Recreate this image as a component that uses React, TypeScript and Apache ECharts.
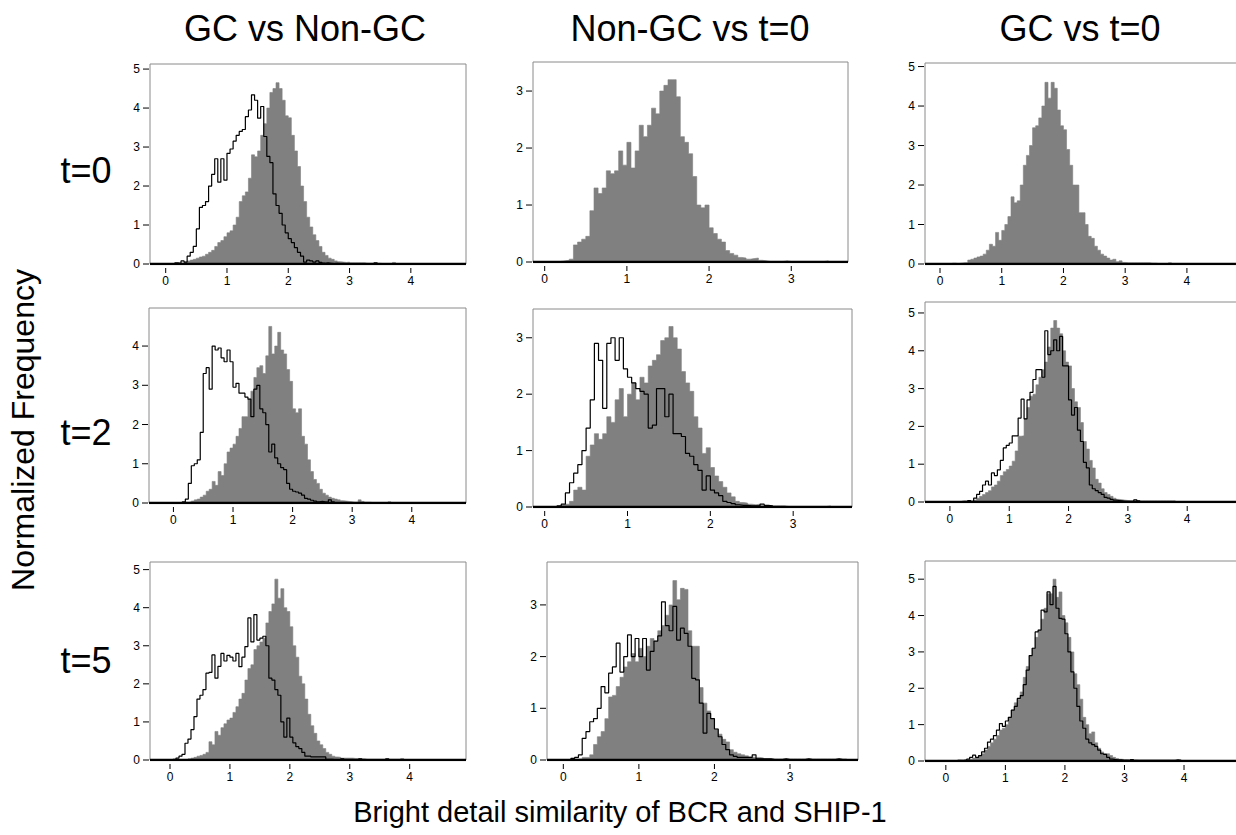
import React, { useEffect, useRef } from "react";
import * as echarts from "echarts";

// ---------- data ----------
const BIN = 0.05; // histogram bin width, values start at x = 0

const colTitles = ["GC vs Non-GC", "Non-GC vs t=0", "GC vs t=0"];
const rowTitles = ["t=0", "t=2", "t=5"];
const xTitle = "Bright detail similarity of BCR and SHIP-1";
const yTitle = "Normalized Frequency";

const xTicksWide = [0, 1, 2, 3, 4];
const xTicksNarrow = [0, 1, 2, 3];
const yTicks5 = [0, 1, 2, 3, 4, 5];
const yTicks4 = [0, 1, 2, 3, 4];
const yTicks3 = [0, 1, 2, 3];

// Row t=0
const t0GcNonFill = [
  0, 0, 0, 0, 0, 0.02, 0.05, 0.08, 0.1, 0.12,
  0.15, 0.18, 0.2, 0.25, 0.3, 0.35, 0.45, 0.55, 0.6, 0.7,
  0.8, 0.85, 1.0, 1.2, 1.6, 1.75, 1.85, 2.2, 2.8, 2.75,
  2.9, 3.3, 3.6, 4.0, 4.4, 4.5, 4.65, 4.5, 4.2, 3.8,
  3.75, 3.3, 2.9, 2.5, 2.0, 1.6, 1.2, 0.95, 0.75, 0.6,
  0.45, 0.3, 0.22, 0.15, 0.12, 0.08, 0.06, 0.05, 0.04, 0.05,
  0.03, 0.03, 0.03, 0.03, 0.03, 0.02, 0.02, 0.02, 0.02, 0.02,
  0.01, 0.01, 0.01, 0.01, 0.04, 0,
];
const t0GcNonLine = [
  0, 0, 0, 0.03, 0.02, 0.08, 0.05, 0.2, 0.3, 0.45,
  0.9, 1.45, 1.5, 1.6, 2.0, 2.3, 2.7, 2.1, 2.7, 2.15,
  2.84, 2.95, 3.15, 3.3, 3.4, 3.45, 3.78, 3.95, 4.34, 4.2,
  3.74, 4.04, 3.27, 2.76, 2.6, 1.8, 1.5, 1.3, 1.0, 0.8,
  0.65, 0.55, 0.42, 0.3, 0.2, 0.05, 0.1, 0.08, 0.05, 0.08,
  0.04, 0.02, 0.03, 0.02, 0.01, 0.02, 0.01, 0.01, 0, 0,
  0, 0, 0, 0, 0, 0, 0, 0, 0.03, 0,
];
const t0NonT0Fill = [
  0, 0, 0, 0.01, 0.02, 0.03, 0.05, 0.3, 0.35, 0.4,
  0.45, 0.9, 1.3, 1.2, 1.3, 1.6, 1.55, 1.6, 1.95, 1.7,
  2.1, 1.65, 1.95, 2.4, 2.2, 2.4, 2.7, 2.6, 3.0, 3.1,
  3.2, 3.2, 2.9, 2.2, 2.1, 1.9, 1.5, 1.0, 0.95, 1.0,
  0.6, 0.5, 0.4, 0.35, 0.2, 0.15, 0.12, 0.08, 0.07, 0.05,
  0.06, 0.07, 0.03, 0.02, 0.01, 0.01, 0.01, 0.01, 0.02, 0.01,
  0.01, 0.01, 0.01, 0.01, 0.01, 0.01, 0.01, 0.01, 0.02, 0,
];
const t0GcT0Fill = [
  0, 0, 0, 0, 0.02, 0.01, 0.02, 0.03, 0.03, 0.1,
  0.12, 0.15, 0.18, 0.2, 0.25, 0.35, 0.5, 0.45, 0.8, 0.6,
  0.85, 1.0, 1.2, 1.7, 1.55, 1.6, 2.0, 2.5, 2.75, 3.0,
  3.45, 3.5, 3.7, 4.0, 4.6, 4.2, 4.6, 4.45, 3.9, 3.5,
  3.4, 2.9, 2.5, 2.0, 2.0, 1.3, 1.3, 1.0, 0.7, 0.65,
  0.45, 0.35, 0.25, 0.2, 0.15, 0.1, 0.12, 0.06, 0.08, 0.04,
  0.03, 0.03, 0.03, 0.03, 0.03, 0.03, 0.03, 0.03, 0.02, 0.02,
  0.01, 0.01, 0.01, 0.01, 0.03, 0,
];

// Row t=2
const t2GcNonFill = [
  0, 0, 0, 0, 0.02, 0.03, 0.05, 0.08, 0.1, 0.15,
  0.2, 0.3, 0.35, 0.55, 0.45, 0.8, 0.7, 1.0, 1.3, 1.4,
  1.5, 1.7, 1.9, 2.2, 2.2, 2.65, 2.85, 3.2, 3.45, 3.5,
  3.3, 3.75, 4.5, 3.8, 4.0, 4.35, 3.9, 3.8, 3.4, 3.1,
  2.4, 2.3, 2.4, 1.7, 1.5, 1.1, 0.8, 0.6, 0.5, 0.35,
  0.25, 0.2, 0.15, 0.12, 0.1, 0.08, 0.06, 0.05, 0.04, 0.03,
  0.02, 0.02, 0.08, 0.04, 0.02, 0.02, 0.01, 0.01, 0.01, 0.01,
  0.01, 0.01, 0.03, 0,
];
const t2GcNonLine = [
  0, 0, 0, 0.03, 0.1, 0.5, 0.95, 1.0, 1.1, 1.8,
  3.3, 3.45, 2.9, 4.0, 3.9, 3.95, 3.7, 3.6, 3.9, 3.6,
  2.95, 3.05, 2.8, 2.8, 2.7, 2.65, 2.2, 2.9, 3.0, 2.4,
  2.3, 2.0, 1.3, 1.5, 1.15, 1.0, 0.9, 0.85, 0.5, 0.35,
  0.3, 0.28, 0.25, 0.2, 0.12, 0.1, 0.07, 0.05, 0.03, 0.04,
  0.03, 0.02, 0.08, 0.03, 0,
];
const t2NonT0Fill = [
  0, 0, 0, 0, 0.03, 0.05, 0.1, 0.3, 0.35, 0.3,
  0.9, 1.1, 1.3, 1.2, 1.3, 1.6, 1.5, 1.9, 2.1, 1.6,
  2.0, 2.2, 1.9, 2.3, 2.2, 2.5, 2.6, 2.7, 2.95, 3.0,
  3.2, 3.0, 2.8, 2.4, 2.2, 2.05, 1.6, 1.4, 0.95, 1.05,
  0.7, 0.55, 0.45, 0.35, 0.25, 0.18, 0.1, 0.08, 0.07, 0.05,
  0.04, 0.05, 0.02, 0.02, 0.02, 0.02, 0.02, 0.02, 0.01, 0.01,
  0.01, 0.01, 0.01, 0.01, 0.01, 0.01, 0.01, 0.01, 0.02, 0,
];
const t2NonT0Line = [
  0, 0, 0, 0.02, 0.05, 0.25, 0.43, 0.6, 0.75, 1.0,
  1.4, 1.9, 2.9, 2.6, 1.75, 2.9, 3.0, 2.6, 3.0, 2.45,
  2.3, 2.2, 2.1, 2.05, 2.0, 1.4, 1.45, 2.1, 2.1, 1.6,
  2.0, 1.3, 1.3, 1.25, 0.95, 0.9, 0.75, 0.65, 0.3, 0.55,
  0.3, 0.25, 0.2, 0.1, 0.08, 0.06, 0.04, 0.03, 0.03, 0.02,
  0.02, 0.02, 0.05, 0.03, 0.02, 0,
];
const t2GcT0Fill = [
  0, 0, 0, 0, 0.02, 0.01, 0.02, 0.02, 0.05, 0.1,
  0.15, 0.2, 0.25, 0.3, 0.4, 0.45, 0.55, 0.7, 0.8, 0.86,
  0.95, 1.08, 1.35, 1.74, 1.75, 2.2, 2.5, 2.8, 2.85, 3.1,
  3.3, 3.5, 3.7, 4.1, 4.6, 4.8, 4.6, 4.45, 4.0, 3.7,
  3.6, 3.0, 2.65, 2.5, 2.1, 1.6, 1.4, 1.1, 0.9, 0.6,
  0.5, 0.35, 0.25, 0.2, 0.15, 0.1, 0.07, 0.06, 0.05, 0.04,
  0.03, 0.03, 0.05, 0.03, 0.03, 0.03, 0.03, 0.03, 0.03, 0.03,
  0.03, 0.03, 0.03, 0.03, 0.03, 0.03, 0,
];
const t2GcT0Line = [
  0, 0, 0, 0.01, 0.02, 0.02, 0.04, 0.02, 0.1, 0.2,
  0.28, 0.45, 0.55, 0.45, 0.77, 0.7, 0.85, 1.1, 1.43, 1.5,
  1.56, 1.75, 1.75, 2.22, 2.72, 2.2, 2.7, 2.9, 3.24, 3.5,
  3.5, 3.3, 4.53, 3.9, 4.0, 4.29, 4.0, 4.38, 3.6, 3.6,
  2.7, 2.3, 2.5, 1.9, 1.6, 1.05, 0.9, 0.45, 0.35, 0.3,
  0.25, 0.2, 0.12, 0.1, 0.07, 0.05, 0.04, 0.03, 0.02, 0.02,
  0.02, 0.02, 0.06, 0.03, 0,
];

// Row t=5
const t5GcNonFill = [
  0, 0, 0, 0, 0, 0.01, 0.03, 0.05, 0.07, 0.1,
  0.12, 0.15, 0.2, 0.48, 0.4, 0.75, 0.65, 0.85, 0.95, 1.05,
  1.1, 1.25, 1.4, 1.6, 1.75, 2.1, 2.4, 2.5, 2.9, 3.0,
  3.1, 3.2, 3.6, 3.9, 4.1, 4.75, 4.25, 4.5, 4.0, 3.9,
  3.5, 3.0, 2.7, 2.2, 2.0, 1.6, 1.2, 0.9, 0.7, 0.5,
  0.4, 0.3, 0.2, 0.15, 0.1, 0.08, 0.07, 0.05, 0.05, 0.05,
  0.05, 0.04, 0.04, 0.03, 0.03, 0.02, 0.02, 0.02, 0.02, 0.02,
  0.02, 0.02, 0.02, 0.02, 0.02, 0.02, 0.02, 0.04, 0,
];
const t5GcNonLine = [
  0, 0.02, 0.05, 0.1, 0.15, 0.44, 0.55, 0.8, 1.14, 1.6,
  1.7, 1.85, 2.28, 2.3, 2.76, 2.15, 2.46, 2.8, 2.6, 2.75,
  2.7, 2.6, 2.8, 2.45, 2.7, 2.98, 3.73, 3.1, 3.82, 3.15,
  3.2, 3.25, 3.0, 2.15, 2.1, 1.85, 1.7, 1.0, 0.6, 1.1,
  0.6, 0.45, 0.35, 0.3, 0.2, 0.1, 0.1, 0.08, 0.08, 0.08,
  0.08, 0.08, 0.02, 0.02, 0.01, 0.01, 0.01, 0.03, 0.01, 0.01,
  0.01, 0.01, 0.01, 0.03, 0.01, 0.01, 0.01, 0.01, 0.01, 0.01,
  0.01, 0.01, 0.03, 0.01, 0,
];
const t5NonT0Fill = [
  0, 0, 0, 0.02, 0.02, 0.05, 0.05, 0.1, 0.3, 0.45,
  0.55, 0.8, 1.22, 1.25, 1.42, 1.6, 1.8, 1.9, 2.06, 1.9,
  2.16, 2.0, 2.2, 2.35, 2.3, 2.5, 2.6, 2.8, 3.0, 3.47,
  3.1, 3.32, 3.3, 2.5, 2.2, 2.2, 1.4, 1.1, 0.95, 0.8,
  0.6, 0.5, 0.4, 0.35, 0.2, 0.15, 0.12, 0.1, 0.08, 0.06,
  0.05, 0.05, 0.04, 0.02, 0.02, 0.02, 0.02, 0.02, 0.02, 0.02,
  0.02, 0.02, 0.02, 0.02, 0.02, 0.02, 0.02, 0.02, 0.02, 0.02,
  0.02, 0.02, 0.02, 0.02, 0.02, 0,
];
const t5NonT0Line = [
  0, 0, 0.03, 0.05, 0.1, 0.42, 0.55, 0.74, 0.8, 1.0,
  1.42, 1.3, 1.68, 1.8, 2.26, 1.7, 2.0, 2.42, 2.0, 2.35,
  2.0, 2.35, 1.74, 2.1, 2.3, 2.4, 3.06, 2.6, 2.5, 2.97,
  2.32, 2.55, 2.45, 2.2, 1.58, 1.55, 1.1, 0.52, 0.9, 0.8,
  0.6, 0.45, 0.3, 0.2, 0.1, 0.07, 0.05, 0.05, 0.05, 0.05,
  0.1, 0.02, 0.02, 0.02, 0.02, 0.01, 0.01, 0.01, 0.02, 0.01,
  0.01, 0.01, 0.01, 0.01, 0.02, 0.01, 0.01, 0.01, 0.01, 0.01,
  0.01, 0.01, 0.02, 0.01, 0,
];
const t5GcT0Fill = [
  0, 0, 0, 0, 0.02, 0.01, 0.02, 0.03, 0.05, 0.08,
  0.1, 0.15, 0.2, 0.3, 0.4, 0.5, 0.6, 0.7, 0.85, 0.9,
  1.0, 1.2, 1.4, 1.6, 1.7, 1.9, 2.3, 2.6, 2.9, 3.1,
  3.4, 3.6, 3.9, 4.2, 4.6, 4.6, 5.0, 4.5, 4.65, 4.0,
  3.8, 3.4, 3.0, 2.4, 2.1, 1.7, 1.2, 1.0, 0.75, 0.8,
  0.5, 0.35, 0.25, 0.2, 0.2, 0.15, 0.1, 0.07, 0.05, 0.04,
  0.04, 0.03, 0.03, 0.03, 0.02, 0.02, 0.02, 0.02, 0.02, 0.02,
  0.02, 0.02, 0.02, 0.02, 0.02, 0.02, 0.02, 0.02, 0.03, 0,
];
const t5GcT0Line = [
  0, 0, 0, 0, 0.02, 0.02, 0.03, 0.05, 0.1, 0.16,
  0.1, 0.15, 0.25, 0.35, 0.52, 0.6, 0.7, 0.85, 1.03, 0.95,
  1.1, 1.2, 1.4, 1.5, 1.72, 1.8, 2.1, 2.5, 2.9, 3.1,
  3.55, 3.6, 4.15, 4.1, 4.65, 4.3, 4.8, 4.2, 3.92, 3.9,
  3.5, 3.0, 2.45, 2.0, 1.5, 1.1, 0.9, 0.6, 0.5, 0.45,
  0.4, 0.3, 0.2, 0.18, 0.1, 0.05, 0.04, 0.03, 0.03, 0.02,
  0.02, 0.02, 0.04, 0.02, 0.02, 0.02, 0.02, 0.02, 0.02, 0.02,
  0.02, 0.02, 0.02, 0.02, 0.02, 0.02, 0.02, 0.03, 0.02, 0,
];

// ---------- layout ----------
type Panel = {
  left: number; top: number; width: number; height: number;
  xMin: number; xMax: number; yMax: number;
  xTicks: number[]; yTicks: number[];
  fill: number[]; line: number[] | null;
};

const panels: Panel[] = [
  { left: 150, top: 64, width: 316, height: 200, xMin: -0.256, xMax: 4.9, yMax: 5.13, xTicks: xTicksWide, yTicks: yTicks5, fill: t0GcNonFill, line: t0GcNonLine },
  { left: 533, top: 62, width: 315, height: 200, xMin: -0.142, xMax: 3.69, yMax: 3.51, xTicks: xTicksNarrow, yTicks: yTicks3, fill: t0NonT0Fill, line: null },
  { left: 925, top: 63, width: 315, height: 201, xMin: -0.243, xMax: 4.86, yMax: 5.09, xTicks: xTicksWide, yTicks: yTicks5, fill: t0GcT0Fill, line: null },
  { left: 149, top: 308, width: 317, height: 195, xMin: -0.41, xMax: 4.91, yMax: 4.97, xTicks: xTicksWide, yTicks: yTicks4, fill: t2GcNonFill, line: t2GcNonLine },
  { left: 533, top: 309, width: 319, height: 198, xMin: -0.141, xMax: 3.71, yMax: 3.51, xTicks: xTicksNarrow, yTicks: yTicks3, fill: t2NonT0Fill, line: t2NonT0Line },
  { left: 925, top: 302, width: 315, height: 200, xMin: -0.42, xMax: 4.89, yMax: 5.29, xTicks: xTicksWide, yTicks: yTicks5, fill: t2GcT0Fill, line: t2GcT0Line },
  { left: 150, top: 562, width: 316, height: 198, xMin: -0.334, xMax: 4.94, yMax: 5.2, xTicks: xTicksWide, yTicks: yTicks5, fill: t5GcNonFill, line: t5GcNonLine },
  { left: 547, top: 562, width: 311, height: 198, xMin: -0.216, xMax: 3.9, yMax: 3.83, xTicks: xTicksNarrow, yTicks: yTicks3, fill: t5NonT0Fill, line: t5NonT0Line },
  { left: 925, top: 561, width: 315, height: 200, xMin: -0.35, xMax: 4.94, yMax: 5.5, xTicks: xTicksWide, yTicks: yTicks5, fill: t5GcT0Fill, line: t5GcT0Line },
];

const colCenters = [305, 690, 1080];
const rowCenters = [170, 432, 660];

const FONT = '"Liberation Sans", Arial, Helvetica, sans-serif';
const TICK_FONT = '"Liberation Sans Narrow", "Arial Narrow", "Liberation Sans", Arial, sans-serif';

function toSteps(vals: number[]): number[][] {
  const pts = vals.map((v, i) => [+(i * BIN).toFixed(3), v]);
  pts.push([+(vals.length * BIN).toFixed(3), 0]);
  return pts;
}

function buildOption() {
  const grid = panels.map((p) => ({
    left: p.left, top: p.top, width: p.width, height: p.height,
    show: true, borderColor: "#8a8a8a", borderWidth: 1,
    backgroundColor: "transparent", containLabel: false, outerBoundsMode: "none",
  }));
  const xAxis = panels.map((p, i) => ({
    type: "value", gridIndex: i, min: p.xMin, max: p.xMax, offset: 4,
    axisLine: { show: false }, splitLine: { show: false },
    axisTick: { show: false },
    axisLabel: { show: true, margin: 7, fontSize: 12, color: "#000", fontFamily: TICK_FONT, customValues: p.xTicks },
  }));
  const yAxis = panels.map((p, i) => ({
    type: "value", gridIndex: i, min: 0, max: p.yMax, position: "left",
    axisLine: { show: false }, splitLine: { show: false },
    axisTick: { show: false },
    axisLabel: { show: true, margin: 10, fontSize: 12, color: "#000", fontFamily: TICK_FONT, customValues: p.yTicks },
  }));
  const series: any[] = [];
  panels.forEach((p, i) => {
    series.push({
      type: "line", xAxisIndex: i, yAxisIndex: i, step: "end", data: toSteps(p.fill),
      symbol: "none", silent: true, z: 1,
      lineStyle: { color: "#808080", width: 0.6 },
      areaStyle: { color: "#808080", opacity: 1 },
    });
    if (p.line) {
      series.push({
        type: "line", xAxisIndex: i, yAxisIndex: i, step: "end", data: toSteps(p.line),
        symbol: "none", silent: true, z: 2,
        lineStyle: { color: "#000", width: 1.2 },
      });
    }
    series.push({
      type: "line", xAxisIndex: i, yAxisIndex: i, data: [[p.xMin, 0], [p.xMax, 0]],
      symbol: "none", silent: true, z: 3,
      lineStyle: { color: "#000", width: 2.5 },
    });
    // y-axis tick marks (outside, left of the frame)
    series.push({
      type: "custom", xAxisIndex: i, yAxisIndex: i, silent: true, clip: false, z: 4,
      data: p.yTicks.map((v) => [p.xMin, v]),
      renderItem: (_params: any, api: any) => {
        const pt = api.coord([api.value(0), api.value(1)]);
        return {
          type: "line",
          shape: { x1: pt[0] - 7, y1: pt[1], x2: pt[0] - 1, y2: pt[1] },
          style: { stroke: "#000", lineWidth: 1 },
        };
      },
    });
    // x-axis tick marks (below the baseline, with a small gap)
    series.push({
      type: "custom", xAxisIndex: i, yAxisIndex: i, silent: true, clip: false, z: 4,
      data: p.xTicks.map((v) => [v, 0]),
      renderItem: (_params: any, api: any) => {
        const pt = api.coord([api.value(0), api.value(1)]);
        return {
          type: "line",
          shape: { x1: pt[0], y1: pt[1] + 4, x2: pt[0], y2: pt[1] + 9 },
          style: { stroke: "#000", lineWidth: 1 },
        };
      },
    });
  });

  const graphic: any[] = [];
  colTitles.forEach((t, i) => {
    graphic.push({
      type: "text", x: colCenters[i], y: 28,
      style: { text: t, font: `36px ${FONT}`, fill: "#000", textAlign: "center", textVerticalAlign: "middle" },
    });
  });
  rowTitles.forEach((t, i) => {
    graphic.push({
      type: "text", x: 86, y: rowCenters[i],
      style: { text: t, font: `36px ${FONT}`, fill: "#000", textAlign: "center", textVerticalAlign: "middle" },
    });
  });
  graphic.push({
    type: "text", x: 620, y: 812,
    style: { text: xTitle, font: `29px ${FONT}`, fill: "#000", textAlign: "center", textVerticalAlign: "middle" },
  });
  graphic.push({
    type: "text", x: 23, y: 430, rotation: Math.PI / 2,
    style: { text: yTitle, font: `32px ${FONT}`, fill: "#000", textAlign: "center", textVerticalAlign: "middle" },
  });

  return {
    animation: false,
    backgroundColor: "#fff",
    grid, xAxis, yAxis, series, graphic,
  };
}

export default function App() {
  const ref = useRef<HTMLDivElement>(null);
  useEffect(() => {
    if (!ref.current) return;
    const chart = echarts.init(ref.current, null, { renderer: "svg" });
    chart.setOption(buildOption() as any);
    return () => chart.dispose();
  }, []);
  return (
    <div
      ref={ref}
      style={{ position: "absolute", left: 0, top: 0, width: 1236, height: 835, background: "#fff" }}
    />
  );
}
